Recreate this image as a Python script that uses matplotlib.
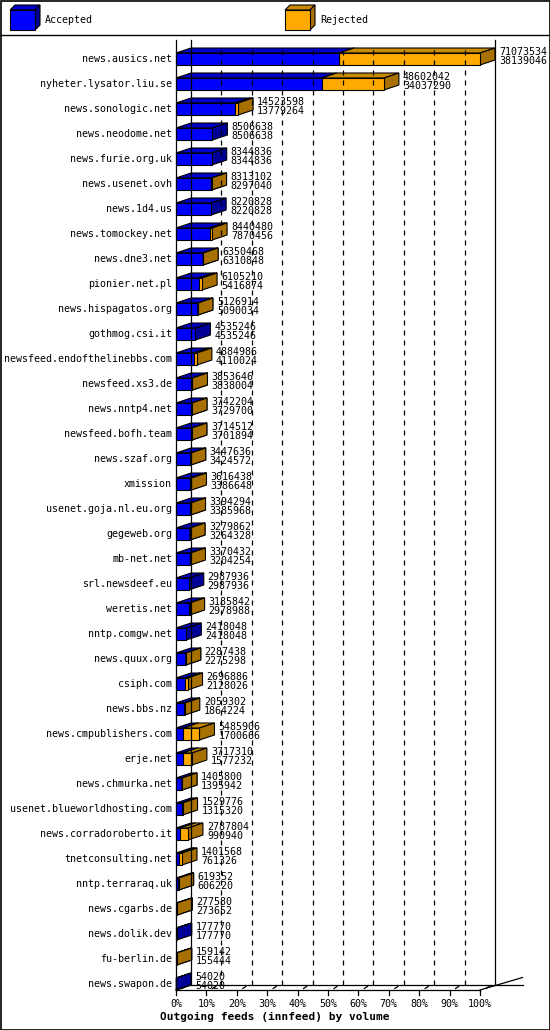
import matplotlib.pyplot as plt
from matplotlib.patches import Polygon, Rectangle
from matplotlib.lines import Line2D

hosts = ["news.ausics.net", "nyheter.lysator.liu.se", "news.sonologic.net", "news.neodome.net",
         "news.furie.org.uk", "news.usenet.ovh", "news.1d4.us", "news.tomockey.net", "news.dne3.net",
         "pionier.net.pl", "news.hispagatos.org", "gothmog.csi.it", "newsfeed.endofthelinebbs.com",
         "newsfeed.xs3.de", "news.nntp4.net", "newsfeed.bofh.team", "news.szaf.org", "xmission",
         "usenet.goja.nl.eu.org", "gegeweb.org", "mb-net.net", "srl.newsdeef.eu", "weretis.net",
         "nntp.comgw.net", "news.quux.org", "csiph.com", "news.bbs.nz", "news.cmpublishers.com",
         "erje.net", "news.chmurka.net", "usenet.blueworldhosting.com", "news.corradoroberto.it",
         "tnetconsulting.net", "nntp.terraraq.uk", "news.cgarbs.de", "news.dolik.dev",
         "fu-berlin.de", "news.swapon.de"]
offered = [71073534, 48602042, 14523598, 8506638, 8344836, 8313102, 8220828, 8440480, 6350468,
           6105210, 5126914, 4535246, 4884986, 3853646, 3742204, 3714512, 3447636, 3616438,
           3394294, 3279862, 3370432, 2987936, 3185842, 2418048, 2287438, 2696886, 2059302,
           5485906, 3717310, 1405800, 1529776, 2787804, 1401568, 619352, 277580, 177770,
           159142, 54020]
accepted = [38139046, 34037290, 13779264, 8506638, 8344836, 8297040, 8220828, 7870456, 6310848,
            5416874, 5090034, 4535246, 4110024, 3838004, 3729700, 3701894, 3424572, 3386648,
            3385968, 3264328, 3204254, 2987936, 2978988, 2418048, 2275298, 2128026, 1864224,
            1700666, 1577232, 1395942, 1315320, 990940, 761326, 606220, 273652, 177770,
            155444, 54020]
xticks = [0, 10, 20, 30, 40, 50, 60, 70, 80, 90, 100]

W, H = 550, 1030
fig = plt.figure(figsize=(W / 100, H / 100), dpi=100)
mono = "DejaVu Sans Mono"

n = len(hosts)
ax = fig.add_axes([176 / W, (H - 996.5) / H, 304 / W, 950 / H])
ax.set_xlim(0, 1)
ax.set_ylim(n - 0.5, -0.5)
ax.axis("off")

dx, dy, hh = 15 / 304, 0.2, 0.24
top, floor_b, floor_f = -0.76, n - 1 + 0.04 + 0.0, n - 1 + 0.24

BLUE = ("#0000ff", "#0000c8", "#000099")
ORANGE = ("#ffaa00", "#c88a00", "#a87000")


def box(x0, x1, y, cols):
    f, t, s = cols
    kw = dict(edgecolor="black", linewidth=0.8, clip_on=False)
    ax.add_patch(Polygon([(x0, y - hh), (x0 + dx, y - hh - dy), (x1 + dx, y - hh - dy), (x1, y - hh)],
                         facecolor=t, **kw))
    ax.add_patch(Polygon([(x1, y - hh), (x1 + dx, y - hh - dy), (x1 + dx, y + hh - dy), (x1, y + hh)],
                         facecolor=s, **kw))
    ax.add_patch(Rectangle((x0, y - hh), x1 - x0, 2 * hh, facecolor=f, **kw))


# walls and grid
lk = dict(color="black", linewidth=0.9, clip_on=False)
ax.plot([0, 0], [top, floor_f], **lk)
ax.plot([dx, dx], [top, floor_b], **lk)
ax.plot([1 + dx, 1 + dx], [top, floor_b], **lk)
ax.plot([dx, 1.14], [floor_b, floor_b], **lk)
ax.plot([0, 1], [floor_f, floor_f], **lk)
ax.plot([0, dx], [floor_f, floor_b], **lk)
ax.plot([1, 1.14], [floor_f, floor_b - 0.3], **lk)
for t in xticks[1:-1]:
    ax.plot([t / 100 + dx] * 2, [top, floor_b], color="black", linewidth=0.9, linestyle=(0, (4, 4)))
for t in xticks:
    ax.plot([t / 100, t / 100], [floor_f, floor_f + 0.2], **lk)
    ax.plot([t / 100 + 0.4 * dx, t / 100 + 0.6 * dx], [floor_f - 0.06, floor_f - 0.14], **lk)
    ax.text(t / 100, floor_f + 0.55, f"{t}%", ha="center", va="center", fontsize=7.2, family=mono)

mx = max(offered)
for i in range(n):
    a = accepted[i] / mx
    o = offered[i] / mx
    box(0, a, i, BLUE)
    if offered[i] > accepted[i]:
        box(a, o, i, ORANGE)
    ax.text(-0.013, i, hosts[i], ha="right", va="center", fontsize=7.2, family=mono)
    ax.text(o + dx + 0.013, i - 0.1, f"{offered[i]}\n{accepted[i]}", ha="left", va="center",
            fontsize=7.2, family=mono, linespacing=0.95, clip_on=False)

# legend band and frame
ov = fig.add_axes([0, 0, 1, 1], zorder=-1)
ov.set_xlim(0, W)
ov.set_ylim(H, 0)
ov.axis("off")
ov.add_patch(Rectangle((0.5, 0.5), W - 1, H - 1, fill=False, edgecolor="black", linewidth=1.2))
ov.plot([0, W], [35, 35], color="black", linewidth=1)
for x0, cols, lab in [(10, BLUE, "Accepted"), (285, ORANGE, "Rejected")]:
    ov.add_patch(Polygon([(x0, 10), (x0 + 5, 5), (x0 + 30, 5), (x0 + 25, 10)], facecolor=cols[1],
                         edgecolor="black", linewidth=0.8))
    ov.add_patch(Polygon([(x0 + 25, 10), (x0 + 30, 5), (x0 + 30, 25), (x0 + 25, 30)], facecolor=cols[2],
                         edgecolor="black", linewidth=0.8))
    ov.add_patch(Rectangle((x0, 10), 25, 20, facecolor=cols[0], edgecolor="black", linewidth=0.8))
    ov.text(x0 + 35, 20, lab, ha="left", va="center", fontsize=7.2, family=mono)
ov.text(275, 1017, "Outgoing feeds (innfeed) by volume", ha="center", va="center",
        fontsize=8, family=mono, fontweight="bold")

fig.savefig("out.png", dpi=100)
